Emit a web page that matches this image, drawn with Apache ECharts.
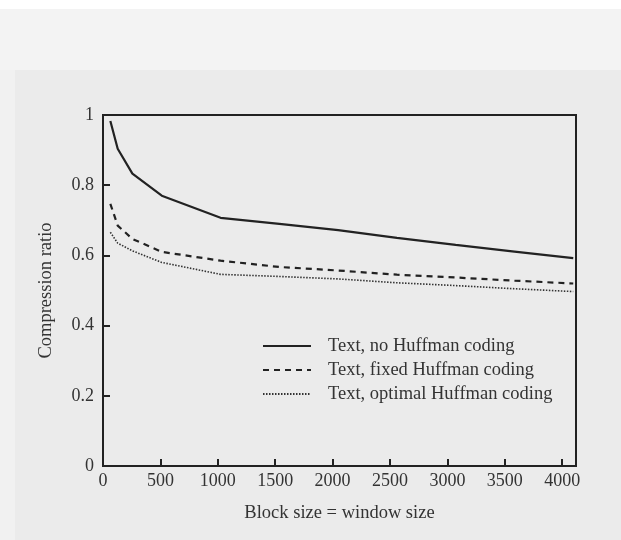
<!DOCTYPE html>
<html>
<head>
<meta charset="utf-8">
<script src="https://cdn.jsdelivr.net/npm/echarts@6/dist/echarts.min.js"></script>
<style>html,body{margin:0;padding:0;background:#ebebeb;}#c{width:621px;height:540px;}</style>
</head>
<body>
<div id="c"></div>
<script>
var blockSizes = [64, 128, 256, 512, 1024, 1536, 2048, 2560, 3072, 3584, 4096];
var noHuffman = [0.983, 0.904, 0.833, 0.770, 0.707, 0.690, 0.672, 0.650, 0.630, 0.611, 0.592];
var fixedHuffman = [0.747, 0.685, 0.647, 0.610, 0.585, 0.567, 0.557, 0.545, 0.537, 0.528, 0.520];
var optimalHuffman = [0.666, 0.635, 0.613, 0.580, 0.546, 0.540, 0.533, 0.522, 0.514, 0.505, 0.497];
var seriesNames = ['Text, no Huffman coding', 'Text, fixed Huffman coding', 'Text, optimal Huffman coding'];
var xTicks = [0, 500, 1000, 1500, 2000, 2500, 3000, 3500, 4000];
var yTicks = [0, 0.2, 0.4, 0.6, 0.8, 1];

function pairs(ys) { return blockSizes.map(function (x, i) { return [x, ys[i]]; }); }

var font = 'Liberation Serif';
var ink = '#222';
var txt = '#333';
var chart = echarts.init(document.getElementById('c'), null, {renderer: 'canvas'});
chart.setOption({
  backgroundColor: '#ebebeb',
  animation: false,
  graphic: [
    {type: 'rect', shape: {x: 0, y: 0, width: 621, height: 9}, style: {fill: '#ffffff'}, z: -10},
    {type: 'rect', shape: {x: 0, y: 9, width: 621, height: 61}, style: {fill: '#f3f3f3'}, z: -10},
    {type: 'rect', shape: {x: 0, y: 70, width: 15, height: 470}, style: {fill: '#f1f1f1'}, z: -10}
  ],
  grid: {left: 103, right: 45, top: 115, bottom: 74, show: true, borderColor: ink, borderWidth: 2, backgroundColor: 'transparent'},
  legend: {
    orient: 'vertical', left: 257, top: 331, itemWidth: 48, itemHeight: 14, itemGap: 4,
    data: seriesNames,
    itemStyle: {color: 'transparent', borderColor: 'transparent', borderWidth: 0},
    textStyle: {fontFamily: font, fontSize: 18.5, lineHeight: 20, color: txt, padding: [0, 0, 0, 12]}
  },
  xAxis: {
    type: 'value', min: 0, max: 4120, interval: 500,
    name: 'Block size = window size', nameLocation: 'middle', nameGap: 38,
    nameTextStyle: {fontFamily: font, fontSize: 18.5, color: txt},
    axisLine: {show: true, lineStyle: {color: ink, width: 2}},
    axisTick: {show: true, inside: true, length: 7, lineStyle: {color: ink, width: 2}},
    axisLabel: {fontFamily: font, fontSize: 18, color: txt, margin: 6, showMaxLabel: false,
      formatter: function (v) { return xTicks.indexOf(v) >= 0 ? String(v) : ''; }},
    splitLine: {show: false}
  },
  yAxis: {
    type: 'value', min: 0, max: 1, interval: 0.2,
    name: 'Compression ratio', nameLocation: 'middle', nameGap: 47, nameRotate: 90,
    nameTextStyle: {fontFamily: font, fontSize: 18.5, color: txt},
    axisLine: {show: true, lineStyle: {color: ink, width: 2}},
    axisTick: {show: true, inside: true, length: 7, lineStyle: {color: ink, width: 2}},
    axisLabel: {fontFamily: font, fontSize: 18, color: txt, margin: 9,
      formatter: function (v) { var r = Math.round(v * 10) / 10; return yTicks.indexOf(r) >= 0 ? String(r) : ''; }},
    splitLine: {show: false}
  },
  series: [
    {name: seriesNames[0], type: 'line', data: pairs(noHuffman), symbol: 'none', color: ink,
      lineStyle: {color: ink, width: 2.2, type: 'solid'}},
    {name: seriesNames[1], type: 'line', data: pairs(fixedHuffman), symbol: 'none', color: ink,
      lineStyle: {color: ink, width: 2.2, type: [6, 5]}},
    {name: seriesNames[2], type: 'line', data: pairs(optimalHuffman), symbol: 'none', color: ink,
      lineStyle: {color: '#333', width: 1.6, type: [1.5, 1.5]}}
  ]
});
</script>
</body>
</html>
